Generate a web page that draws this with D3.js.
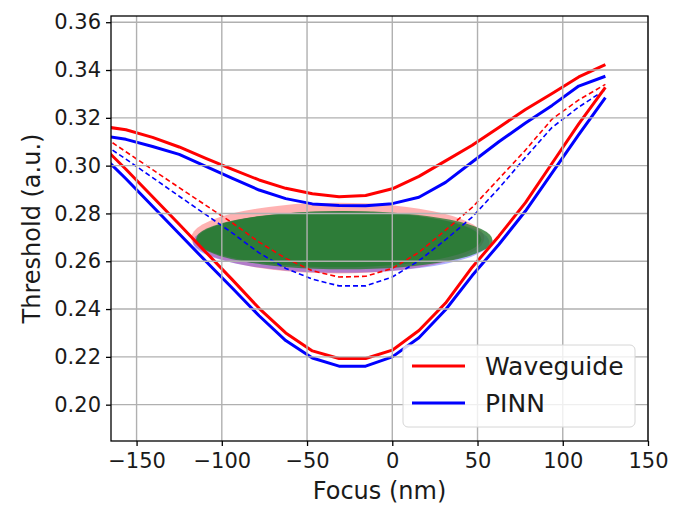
<!DOCTYPE html>
<html>
<head>
<meta charset="utf-8">
<script src="https://cdn.jsdelivr.net/npm/d3@7"></script>
<style>
  body { margin: 0; background: #fff; }
  text { font-family: "DejaVu Sans", sans-serif; fill: #000; }
</style>
</head>
<body>
<div id="chart"></div>
<script>
var width  = 674;
var height = 506;
var margin = { top: 16, right: 26, bottom: 65, left: 111 };

// focus positions (nm) of the sampled curves
var focus = [-171.875, -156.25, -140.625, -125, -109.375, -93.75, -78.125, -62.5,
             -46.875, -31.25, -15.625, 0, 15.625, 31.25, 46.875, 62.5,
             78.125, 93.75, 109.375, 125];

// Waveguide curves
var waveUpper = [0.3166, 0.3150, 0.3118, 0.3078, 0.3030, 0.2984, 0.2940, 0.2905,
                 0.2882, 0.2870, 0.2875, 0.2903, 0.2955, 0.3020, 0.3085, 0.3160,
                 0.3235, 0.3302, 0.3371, 0.3423];
var waveLower = [0.3095, 0.2985, 0.2870, 0.2755, 0.2638, 0.2522, 0.2403, 0.2300,
                 0.2225, 0.2193, 0.2193, 0.2228, 0.2310, 0.2425, 0.2575, 0.2705,
                 0.2845, 0.3010, 0.3175, 0.3327];
var waveMid   = [0.3133, 0.3058, 0.2983, 0.2908, 0.2834, 0.2760, 0.2680, 0.2612,
                 0.2560, 0.2534, 0.2537, 0.2570, 0.2637, 0.2730, 0.2825, 0.2945,
                 0.3065, 0.3195, 0.3275, 0.3340];

// PINN curves
var pinnUpper = [0.3127, 0.3110, 0.3080, 0.3047, 0.2997, 0.2947, 0.2898, 0.2862,
                 0.2840, 0.2833, 0.2832, 0.2841, 0.2868, 0.2930, 0.3015, 0.3100,
                 0.3178, 0.3252, 0.3333, 0.3374];
var pinnLower = [0.3055, 0.2945, 0.2830, 0.2715, 0.2600, 0.2487, 0.2372, 0.2268,
                 0.2195, 0.2161, 0.2161, 0.2200, 0.2280, 0.2397, 0.2540, 0.2670,
                 0.2810, 0.2970, 0.3130, 0.3285];
var pinnMid   = [0.3102, 0.3027, 0.2950, 0.2872, 0.2795, 0.2718, 0.2635, 0.2570,
                 0.2525, 0.2497, 0.2497, 0.2534, 0.2602, 0.2690, 0.2785, 0.2905,
                 0.3035, 0.3160, 0.3245, 0.3318];

// process windows (Waveguide, PINN): centre and half sizes
var windowFocus      = [-32, -30];
var windowThreshold  = [0.2697, 0.2680];
var windowHalfFocus  = [86, 87];
var windowHalfThresh = [0.0148, 0.0128];

// fitted ellipses inside the windows
var fitFocus      = [-31.5, -28];
var fitThreshold  = [0.2692, 0.2688];
var fitHalfFocus  = [83.7, 86.8];
var fitHalfThresh = [0.0117, 0.0122];

var seriesNames = ["Waveguide", "PINN"];
var seriesColors = ["#ff0000", "#0000ff"];

var xTicks = [-150, -100, -50, 0, 50, 100, 150];
var yTicks = [0.20, 0.22, 0.24, 0.26, 0.28, 0.30, 0.32, 0.34, 0.36];

var svg = d3.select('#chart')
  .append('svg')
  .attr('width', width)
  .attr('height', height);

var x = d3.scaleLinear()
  .domain([-165, 150])
  .range([margin.left, width - margin.right]);

var y = d3.scaleLinear()
  .domain([0.1848, 0.3626])
  .range([height - margin.bottom, margin.top]);

svg.append('clipPath')
  .attr('id', 'plot-clip')
  .append('rect')
  .attr('x', margin.left)
  .attr('y', margin.top)
  .attr('width', width - margin.left - margin.right)
  .attr('height', height - margin.top - margin.bottom);

var plot = svg.append('g').attr('clip-path', 'url(#plot-clip)');

// windows
windowFocus.forEach(function(f, i) {
  plot.append('ellipse')
    .attr('cx', x(f))
    .attr('cy', y(windowThreshold[i]))
    .attr('rx', x(f + windowHalfFocus[i]) - x(f))
    .attr('ry', y(windowThreshold[i] - windowHalfThresh[i]) - y(windowThreshold[i]))
    .style('fill', seriesColors[i])
    .style('fill-opacity', 0.3);
});

fitFocus.forEach(function(f, i) {
  plot.append('ellipse')
    .attr('cx', x(f))
    .attr('cy', y(fitThreshold[i]))
    .attr('rx', x(f + fitHalfFocus[i]) - x(f))
    .attr('ry', y(fitThreshold[i] - fitHalfThresh[i]) - y(fitThreshold[i]))
    .style('fill', 'rgb(40,124,50)')
    .style('fill-opacity', 0.8);
});

// Grid
var grid = svg.append('g');
grid.selectAll('.gx')
  .data(xTicks)
  .enter()
  .append('line')
  .attr('x1', function(d) { return x(d); })
  .attr('x2', function(d) { return x(d); })
  .attr('y1', margin.top)
  .attr('y2', height - margin.bottom)
  .style('stroke', '#b0b0b0')
  .style('stroke-width', 1.4);
grid.selectAll('.gy')
  .data(yTicks)
  .enter()
  .append('line')
  .attr('x1', margin.left)
  .attr('x2', width - margin.right)
  .attr('y1', function(d) { return y(d); })
  .attr('y2', function(d) { return y(d); })
  .style('stroke', '#b0b0b0')
  .style('stroke-width', 1.4);

var line = d3.line()
  .x(function(d) { return x(d[0]); })
  .y(function(d) { return y(d[1]); });

function drawCurve(values, color, dashed) {
  plot.append('path')
    .datum(d3.zip(focus, values))
    .attr('d', line)
    .style('fill', 'none')
    .style('stroke', color)
    .style('stroke-width', dashed ? 1.6 : 3)
    .style('stroke-dasharray', dashed ? '5,3' : null)
    .style('stroke-linejoin', 'round');
}

drawCurve(waveMid, seriesColors[0], true);
drawCurve(pinnMid, seriesColors[1], true);
drawCurve(waveUpper, seriesColors[0], false);
drawCurve(waveLower, seriesColors[0], false);
drawCurve(pinnUpper, seriesColors[1], false);
drawCurve(pinnLower, seriesColors[1], false);

// Axes
var xAxis = svg.append('g')
  .attr('transform', 'translate(0,' + (height - margin.bottom) + ')')
  .call(d3.axisBottom(x).tickValues(xTicks).tickSize(5).tickPadding(7).tickFormat(d3.format('d')));
var yAxis = svg.append('g')
  .attr('transform', 'translate(' + margin.left + ',0)')
  .call(d3.axisLeft(y).tickValues(yTicks).tickSize(5).tickPadding(5).tickFormat(d3.format('.2f')));

[xAxis, yAxis].forEach(function(a) {
  a.select('.domain').remove();
  a.selectAll('.tick line').style('stroke', '#000').style('stroke-width', 1.3);
  a.selectAll('.tick text')
    .style('font-family', '"DejaVu Sans", sans-serif')
    .style('font-size', '21px')
    .style('fill', '#1a1a1a');
});

svg.append('rect')
  .attr('x', margin.left)
  .attr('y', margin.top)
  .attr('width', width - margin.left - margin.right)
  .attr('height', height - margin.top - margin.bottom)
  .style('fill', 'none')
  .style('stroke', '#000')
  .style('stroke-width', 1.3);

svg.append('text')
  .attr('x', (margin.left + width - margin.right) / 2)
  .attr('y', 499)
  .attr('text-anchor', 'middle')
  .style('font-size', '24px')
  .style('fill', '#1a1a1a')
  .text('Focus (nm)');

svg.append('text')
  .attr('transform', 'translate(40,' + ((margin.top + height - margin.bottom) / 2) + ')rotate(-90)')
  .attr('text-anchor', 'middle')
  .style('font-size', '24px')
  .style('fill', '#1a1a1a')
  .text('Threshold (a.u.)');

// Legend
var legend = svg.append('g').attr('transform', 'translate(403,345)');
legend.append('rect')
  .attr('width', 232)
  .attr('height', 82)
  .attr('rx', 5)
  .style('fill', '#fff')
  .style('fill-opacity', 0.8)
  .style('stroke', '#d6d6d6')
  .style('stroke-width', 1);

seriesNames.forEach(function(name, i) {
  var g = legend.append('g').attr('transform', 'translate(0,' + (21 + i * 37) + ')');
  g.append('line')
    .attr('x1', 9).attr('x2', 62)
    .style('stroke', seriesColors[i])
    .style('stroke-width', 3);
  g.append('text')
    .attr('x', 82)
    .attr('dy', '0.36em')
    .style('font-size', '25px')
    .style('fill', '#1a1a1a')
    .text(name);
});
</script>
</body>
</html>
